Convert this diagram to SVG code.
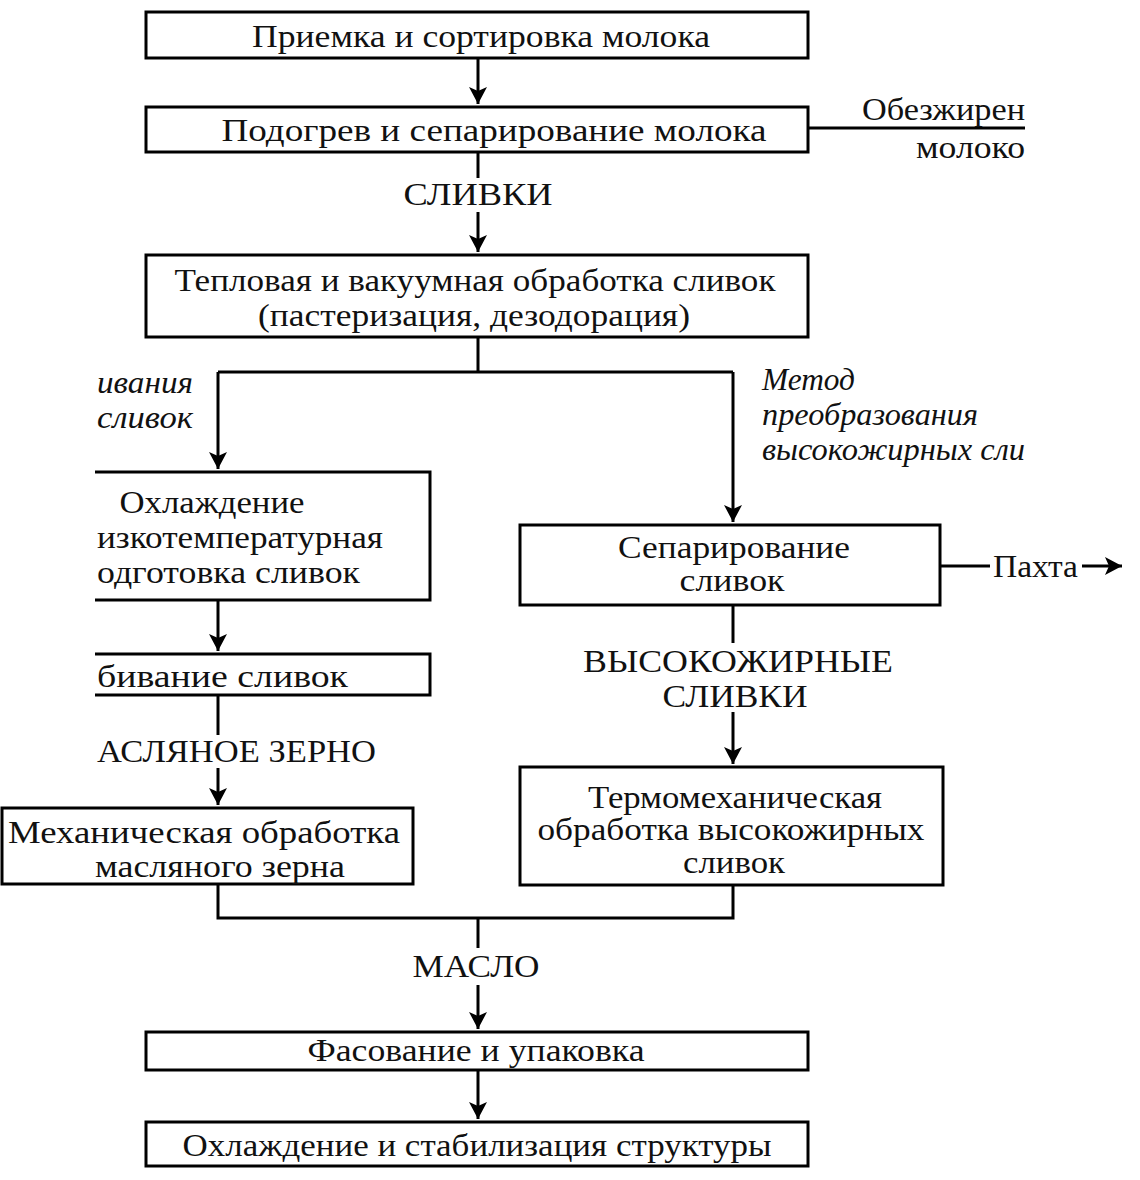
<svg xmlns="http://www.w3.org/2000/svg" width="1140" height="1180" viewBox="0 0 1140 1180">
<style>
.box{fill:#fff;stroke:#000;stroke-width:3}
.t{font-family:"Liberation Serif","Times New Roman",serif;font-size:31px;fill:#111}
.c{text-anchor:middle}
.e{text-anchor:end}
.i{font-style:italic}
.ln{fill:none;stroke:#000;stroke-width:3}
</style>
<defs>
<marker id="ah" markerUnits="userSpaceOnUse" markerWidth="20" markerHeight="20" refX="17" refY="10" orient="auto">
<path d="M0,1 L17,10 L0,19 L4,10 Z" fill="#000"/>
</marker>
</defs>
<rect width="1140" height="1180" fill="#fff"/>
<g id="connectors">
<path class="ln" d="M478,58 V104" marker-end="url(#ah)"/>
<path class="ln" d="M808,128 H1025"/>
<path class="ln" d="M478,152 V178"/>
<path class="ln" d="M478,212 V252" marker-end="url(#ah)"/>
<path class="ln" d="M478,337 V372 M218,372 H733"/>
<path class="ln" d="M218,372 V469" marker-end="url(#ah)"/>
<path class="ln" d="M733,372 V522" marker-end="url(#ah)"/>
<path class="ln" d="M218,600 V651" marker-end="url(#ah)"/>
<path class="ln" d="M218,695 V735"/>
<path class="ln" d="M218,768 V805" marker-end="url(#ah)"/>
<path class="ln" d="M733,605 V643"/>
<path class="ln" d="M733,712 V764" marker-end="url(#ah)"/>
<path class="ln" d="M940,566 H990"/>
<path class="ln" d="M1082,566 H1122" marker-end="url(#ah)"/>
<path class="ln" d="M218,884 V918 H733 V885"/>
<path class="ln" d="M478,918 V948"/>
<path class="ln" d="M478,985 V1029" marker-end="url(#ah)"/>
<path class="ln" d="M478,1070 V1119" marker-end="url(#ah)"/>
</g>
<g id="n-priemka"><rect class="box" x="146" y="12" width="662" height="46"/>
<text class="t c" x="481" y="47" textLength="458" lengthAdjust="spacingAndGlyphs">Приемка и сортировка молока</text></g>
<g id="n-podogrev"><rect class="box" x="146" y="107" width="662" height="45"/>
<text class="t c" x="494" y="141" textLength="545" lengthAdjust="spacingAndGlyphs">Подогрев и сепарирование молока</text></g>
<g id="l-obezhir">
<text class="t e" x="1025" y="120" textLength="163" lengthAdjust="spacingAndGlyphs">Обезжирен</text>
<text class="t e" x="1025" y="158" textLength="109" lengthAdjust="spacingAndGlyphs">молоко</text></g>
<g id="l-slivki"><text class="t c" x="478" y="205" textLength="149" lengthAdjust="spacingAndGlyphs">СЛИВКИ</text></g>
<g id="n-teplovaya"><rect class="box" x="146" y="255" width="662" height="82"/>
<text class="t c" x="475" y="291" textLength="601" lengthAdjust="spacingAndGlyphs">Тепловая и вакуумная обработка сливок</text>
<text class="t c" x="474" y="326" textLength="432" lengthAdjust="spacingAndGlyphs">(пастеризация, дезодорация)</text></g>
<g id="l-left">
<text class="t i" x="97" y="393" textLength="96" lengthAdjust="spacingAndGlyphs">ивания</text>
<text class="t i" x="97" y="428" textLength="96" lengthAdjust="spacingAndGlyphs">сливок</text></g>
<g id="l-right">
<text class="t i" x="762" y="390" textLength="93" lengthAdjust="spacingAndGlyphs">Метод</text>
<text class="t i" x="762" y="425" textLength="216" lengthAdjust="spacingAndGlyphs">преобразования</text>
<text class="t i" x="762" y="460" textLength="263" lengthAdjust="spacingAndGlyphs">высокожирных сли</text></g>
<g id="n-ohlazhdenie"><path class="box" d="M95,472 H430 V600 H95"/>
<text class="t c" x="212" y="513" textLength="185" lengthAdjust="spacingAndGlyphs">Охлаждение</text>
<text class="t" x="97" y="548" textLength="286" lengthAdjust="spacingAndGlyphs">изкотемпературная</text>
<text class="t" x="97" y="583" textLength="263" lengthAdjust="spacingAndGlyphs">одготовка сливок</text></g>
<g id="n-sbivanie"><path class="box" d="M95,654 H430 V695 H95"/>
<text class="t" x="97" y="687" textLength="251" lengthAdjust="spacingAndGlyphs">бивание сливок</text></g>
<g id="l-zerno"><text class="t" x="97" y="762" textLength="279" lengthAdjust="spacingAndGlyphs">АСЛЯНОЕ ЗЕРНО</text></g>
<g id="n-mehanich"><rect class="box" x="2" y="808" width="411" height="76"/>
<text class="t c" x="204" y="843" textLength="392" lengthAdjust="spacingAndGlyphs">Механическая обработка</text>
<text class="t c" x="220" y="877" textLength="250" lengthAdjust="spacingAndGlyphs">масляного зерна</text></g>
<g id="n-separ"><rect class="box" x="520" y="525" width="420" height="80"/>
<text class="t c" x="734" y="558" textLength="232" lengthAdjust="spacingAndGlyphs">Сепарирование</text>
<text class="t c" x="732" y="591" textLength="105" lengthAdjust="spacingAndGlyphs">сливок</text></g>
<g id="l-pahta"><text class="t" x="993" y="577" textLength="85" lengthAdjust="spacingAndGlyphs">Пахта</text></g>
<g id="l-vysoko">
<text class="t c" x="738" y="672" textLength="310" lengthAdjust="spacingAndGlyphs">ВЫСОКОЖИРНЫЕ</text>
<text class="t c" x="735" y="707" textLength="145" lengthAdjust="spacingAndGlyphs">СЛИВКИ</text></g>
<g id="n-termo"><rect class="box" x="520" y="767" width="423" height="118"/>
<text class="t c" x="735" y="808" textLength="294" lengthAdjust="spacingAndGlyphs">Термомеханическая</text>
<text class="t c" x="731" y="840" textLength="387" lengthAdjust="spacingAndGlyphs">обработка высокожирных</text>
<text class="t c" x="734" y="873" textLength="102" lengthAdjust="spacingAndGlyphs">сливок</text></g>
<g id="l-maslo"><text class="t c" x="476" y="977" textLength="127" lengthAdjust="spacingAndGlyphs">МАСЛО</text></g>
<g id="n-fasovanie"><rect class="box" x="146" y="1032" width="662" height="38"/>
<text class="t c" x="476" y="1061" textLength="337" lengthAdjust="spacingAndGlyphs">Фасование и упаковка</text></g>
<g id="n-ohl-stab"><rect class="box" x="146" y="1122" width="662" height="44"/>
<text class="t c" x="477" y="1156" textLength="589" lengthAdjust="spacingAndGlyphs">Охлаждение и стабилизация структуры</text></g>
</svg>
